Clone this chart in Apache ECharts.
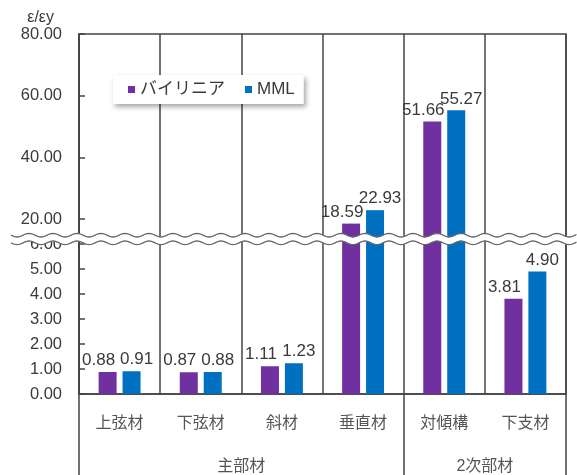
<!DOCTYPE html>
<html>
<head>
<meta charset="utf-8">
<script src="https://cdn.jsdelivr.net/npm/echarts@6/dist/echarts.min.js"></script>
<style>
  html, body { margin: 0; padding: 0; background: #ffffff; }
  #chart { width: 577px; height: 475px; }
</style>
</head>
<body>
<div id="chart"></div>
<script>
// Members and their groups
const categories = ['上弦材', '下弦材', '斜材', '垂直材', '対傾構', '下支材'];
const groupNames = ['主部材', '2次部材'];
const groupSpans = [4, 2];

// Strain ratio ε/εy per member
const seriesNames = ['バイリニア', 'MML'];
const bilinear = [0.88, 0.87, 1.11, 18.59, 51.66, 3.81];
const mml = [0.91, 0.88, 1.23, 22.93, 55.27, 4.90];

// Tick values of the two panels of the broken axis
const upperTicks = [20, 40, 60, 80];
const lowerTicks = [0, 1, 2, 3, 4, 5, 6];

// Extent of each panel (the axis is broken between LOWER_MAX and UPPER_MIN)
const LOWER_MAX = 6.2;
const UPPER_MIN = 13.6;
const Y_MAX = 80;

const COLORS = ['#7030A0', '#0070C0'];
const LINE = '#444444';
const TEXT = '#3a3a3a';
const FONT = "'Liberation Sans', 'Noto Sans CJK JP', sans-serif";

const chart = echarts.init(document.getElementById('chart'), null, { renderer: 'canvas' });

// group boundaries and centres on a 0..N scale
const bounds = [0];
groupSpans.forEach(s => bounds.push(bounds[bounds.length - 1] + s));
const centres = groupSpans.map((s, i) => bounds[i] + s / 2);

const gridBase = { left: 79, right: 11, show: true, borderColor: LINE, borderWidth: 1.5, backgroundColor: 'transparent' };

function barSeries(idx, data, panel) {
  const lower = panel === 'lower';
  return {
    name: seriesNames[idx],
    type: 'bar',
    xAxisIndex: lower ? 1 : 0,
    yAxisIndex: lower ? 1 : 0,
    data: data,
    barWidth: 18,
    barGap: '33%',
    clip: true,
    itemStyle: { color: COLORS[idx] },
    label: {
      show: true,
      position: 'top',
      distance: 3,
      offset: idx === 0 ? [-9, 0] : [5, 0],
      fontSize: 17,
      color: TEXT,
      formatter: p => {
        const v = p.value;
        const visible = lower ? v <= LOWER_MAX : v >= UPPER_MIN;
        return visible ? v.toFixed(2) : '';
      }
    }
  };
}

chart.setOption({
  animation: false,
  textStyle: { fontFamily: FONT },
  grid: [
    Object.assign({ top: 34, height: 205 }, gridBase),
    Object.assign({ top: 239, height: 155 }, gridBase),
    { left: 79, right: 11, top: 239, height: 155, show: false }
  ],
  legend: {
    data: seriesNames,
    left: 113,
    top: 75,
    padding: [6, 9, 6, 15],
    itemWidth: 7,
    itemHeight: 7,
    itemGap: 20,
    icon: 'rect',
    backgroundColor: '#ffffff',
    shadowColor: 'rgba(0,0,0,0.35)',
    shadowBlur: 5,
    shadowOffsetX: 2,
    shadowOffsetY: 3,
    textStyle: { fontSize: 17, color: TEXT, fontFamily: FONT }
  },
  xAxis: [
    {
      type: 'category', gridIndex: 0, data: categories,
      axisLine: { show: false }, axisTick: { show: false }, axisLabel: { show: false },
      splitLine: { show: true, interval: 0, lineStyle: { color: LINE, width: 1.5 } }
    },
    {
      type: 'category', gridIndex: 1, data: categories, position: 'bottom',
      axisLine: { show: true, lineStyle: { color: LINE, width: 1.5 } },
      axisTick: { show: false },
      axisLabel: { interval: 0, margin: 22, fontSize: 16, color: '#555555' },
      splitLine: { show: true, interval: 0, lineStyle: { color: LINE, width: 1.5 } }
    },
    {
      type: 'value', gridIndex: 2, position: 'bottom',
      min: bounds[0], max: bounds[bounds.length - 1],
      axisLine: { show: false },
      axisTick: { show: true, customValues: bounds, length: 90, lineStyle: { color: LINE, width: 1.5 } },
      axisLabel: {
        customValues: centres, margin: 65, fontSize: 16, color: '#555555',
        formatter: v => groupNames[centres.indexOf(v)] || ''
      },
      splitLine: { show: false }
    }
  ],
  yAxis: [
    {
      type: 'value', gridIndex: 0, min: UPPER_MIN, max: Y_MAX,
      name: 'ε/εy', nameLocation: 'end', nameGap: 4,
      nameTextStyle: { fontSize: 16, color: TEXT, align: 'right', padding: [0, 25, 0, 0] },
      axisLine: { show: true, lineStyle: { color: LINE, width: 1.5 } },
      axisTick: { show: true, inside: true, length: 6, customValues: upperTicks, lineStyle: { color: LINE, width: 1.5 } },
      axisLabel: { customValues: upperTicks, margin: 17, fontSize: 16.5, color: TEXT, formatter: v => v.toFixed(2) },
      splitLine: { show: false }
    },
    {
      type: 'value', gridIndex: 1, min: 0, max: LOWER_MAX,
      axisLine: { show: true, lineStyle: { color: LINE, width: 1.5 } },
      axisTick: { show: true, inside: true, length: 6, customValues: lowerTicks, lineStyle: { color: LINE, width: 1.5 } },
      axisLabel: { customValues: lowerTicks, margin: 17, fontSize: 16.5, color: TEXT, formatter: v => v.toFixed(2) },
      splitLine: { show: false }
    },
    { type: 'value', gridIndex: 2, show: false, min: 0, max: 1 }
  ],
  series: [
    barSeries(0, bilinear, 'lower'),
    barSeries(1, mml, 'lower'),
    barSeries(0, bilinear, 'upper'),
    barSeries(1, mml, 'upper')
  ]
});

// Wavy break marks across the chart where the two panels meet
const yBreak = chart.convertToPixel({ xAxisIndex: 1, yAxisIndex: 1 }, [0, LOWER_MAX])[1];
const X0 = 11, X1 = 577, PERIOD = 24, AMP = 1.8, HALF = 3.8;
function wave(base) {
  const pts = [];
  for (let x = X0; x <= X1; x += 1.5) {
    pts.push([x, base + AMP * Math.sin((x - X0) / PERIOD * 2 * Math.PI)]);
  }
  return pts;
}
const topWave = wave(yBreak - HALF);
const botWave = wave(yBreak + HALF);

chart.setOption({
  graphic: [
    { type: 'polygon', z: 100, shape: { points: topWave.concat(botWave.slice().reverse()) }, style: { fill: '#ffffff' } },
    { type: 'polyline', z: 101, shape: { points: topWave }, style: { stroke: '#666666', lineWidth: 1.3, fill: null } },
    { type: 'polyline', z: 101, shape: { points: botWave }, style: { stroke: '#666666', lineWidth: 1.3, fill: null } }
  ]
});
</script>
</body>
</html>
